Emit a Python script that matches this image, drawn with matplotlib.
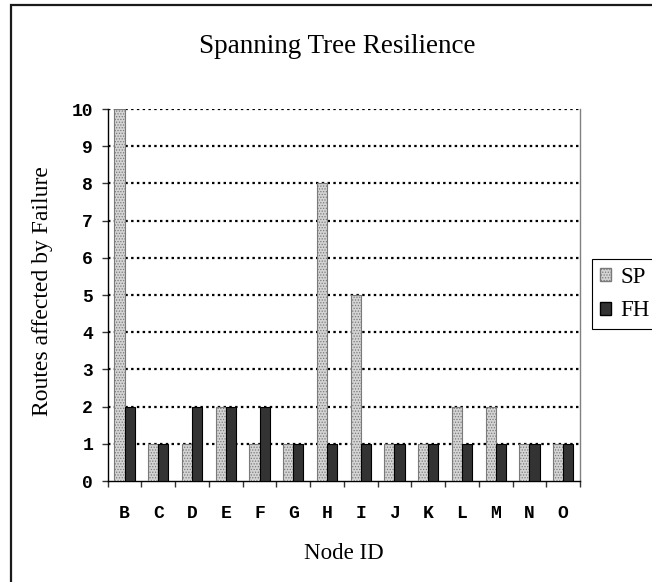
import matplotlib
matplotlib.use("Agg")
import matplotlib.pyplot as plt
from matplotlib.patches import Rectangle, Patch
import numpy as np

categories = ["B", "C", "D", "E", "F", "G", "H", "I", "J", "K", "L", "M", "N", "O"]
sp_values = [10, 1, 1, 2, 1, 1, 8, 5, 1, 1, 2, 2, 1, 1]
fh_values = [2, 1, 2, 2, 2, 1, 1, 1, 1, 1, 1, 1, 1, 1]
y_ticks = list(range(0, 11))

W, H = 652, 582
DPI = 100
plt.rcParams['hatch.linewidth'] = 0.6
fig = plt.figure(figsize=(W / DPI, H / DPI), dpi=DPI)

ax = fig.add_axes([107.7 / W, 1 - 481 / H, (580 - 107.7) / W, (481 - 109) / H])

x = np.arange(len(categories))
bw = 0.3
serif = "Liberation Serif"
mono = "Liberation Mono"

ax.bar(x - bw / 2, sp_values, width=bw, facecolor="#d4d4d4", edgecolor="#7a7a7a",
       hatch="......", linewidth=0.8, zorder=3, label="SP")
ax.bar(x + bw / 2, fh_values, width=bw, facecolor="#333333", edgecolor="#000000",
       linewidth=0.8, zorder=3, label="FH")

ax.set_xlim(-0.5, len(categories) - 0.5)
ax.set_ylim(0, 10)
ax.set_yticks(y_ticks)
ax.set_yticklabels([str(v) for v in y_ticks], fontfamily=mono, fontweight="bold", fontsize=13)
ax.set_xticks(x)
ax.set_xticklabels(categories, fontfamily=mono, fontweight="bold", fontsize=13)
ax.set_xticks(np.arange(-0.5, len(categories), 1.0), minor=True)
ax.tick_params(axis="x", which="major", length=0, pad=17)
ax.tick_params(axis="x", which="minor", length=4, width=1, color="#333333", direction="out")
ax.tick_params(axis="y", which="major", length=4.5, width=1, color="#333333", direction="out", pad=6)

for v in y_ticks[1:]:
    ax.axhline(v, color="black", linewidth=1.6, linestyle=(0, (1.1, 1.5)), zorder=1)

ax.spines["top"].set_visible(False)
ax.spines["right"].set_color("#808080")
ax.spines["right"].set_linewidth(1)
ax.spines["left"].set_color("#000000")
ax.spines["bottom"].set_color("#000000")
ax.spines["left"].set_linewidth(1)
ax.spines["bottom"].set_linewidth(1)

fig.text(337.5 / W, 1 - 53 / H, "Spanning Tree Resilience", fontfamily=serif,
         fontsize=19.5, ha="center", va="baseline")
fig.text(343.5 / W, 1 - 559 / H, "Node ID", fontfamily=serif,
         fontsize=16.5, ha="center", va="baseline")
fig.text(43 / W, 1 - 291 / H, "Routes affected by Failure", fontfamily=serif,
         fontsize=17, ha="center", va="center", rotation=90)

# outer chart frame
fig.patches.append(Rectangle((11 / W, -0.2), 1.2, (1 - 5 / H) + 0.2, transform=fig.transFigure,
                             fill=False, edgecolor="#1a1a1a", linewidth=1.6))

handles = [Patch(facecolor="#d4d4d4", edgecolor="#7a7a7a", hatch="......", label="SP"),
           Patch(facecolor="#333333", edgecolor="#000000", label="FH")]
leg = fig.legend(handles=handles, loc="upper left", bbox_to_anchor=(592 / W, 1 - 259 / H),
                 bbox_transform=fig.transFigure, frameon=True, fancybox=False,
                 edgecolor="black", framealpha=1, prop={"family": serif, "size": 16.5},
                 handlelength=0.5, handleheight=0.5, handletextpad=0.4,
                 borderpad=0.33, labelspacing=0.55, borderaxespad=0)
leg.get_frame().set_linewidth(0.8)

fig.savefig("out.png", dpi=DPI)
